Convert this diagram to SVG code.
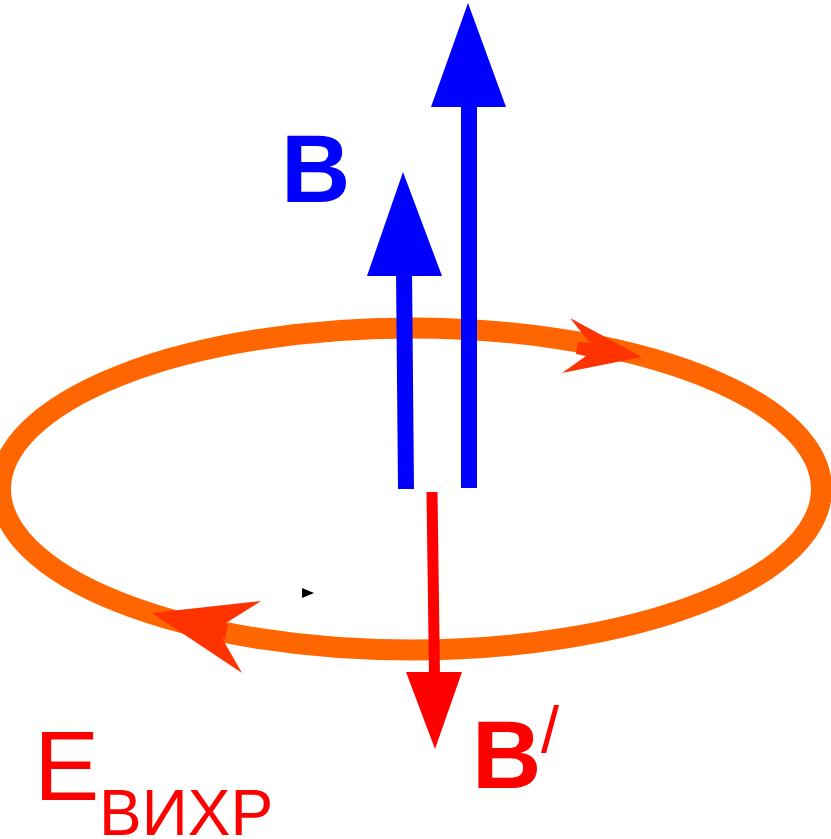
<svg xmlns="http://www.w3.org/2000/svg" width="831" height="839" viewBox="0 0 831 839">
<style>
.blue{fill:#0000FF}
.bshaft{stroke:#0000FF;stroke-width:16;fill:none}
.red{fill:#FF0000}
.rshaft{stroke:#FF0000;stroke-width:11;fill:none}
.loop{stroke:#FF6600;stroke-width:21;fill:none}
.loophead{fill:#FF3300}
.lbl{font-family:"Liberation Sans",Arial,sans-serif}
.bold{font-weight:bold}
</style>
<rect width="831" height="839" fill="#FFFFFF"/>
<g id="loop">
<ellipse class="loop" cx="411" cy="489" rx="410.5" ry="161"/>
<polygon class="loophead" points="570,318 642,357 562,373 586,356 576,354 578,342 590,343"/>
<polygon class="loophead" points="152,613 261,601 226,623 228,625 225,639 222,638 242,673"/>
<polygon fill="#000000" points="302,588 314,593 302,598"/>
</g>
<g id="connectors">
<g id="B-field-short">
<line class="bshaft" x1="404" y1="270" x2="406" y2="489"/>
<polygon class="blue" points="403,172 442,276 367,276"/>
</g>
<g id="B-field-tall">
<line class="bshaft" x1="469" y1="100" x2="469" y2="488"/>
<polygon class="blue" points="468,3 506,107 431,107"/>
</g>
<g id="B-induced">
<line class="rshaft" x1="432" y1="492" x2="434.5" y2="676"/>
<polygon class="red" points="406,672 462,672 435,749"/>
</g>
</g>
<g id="label-B">
<text class="lbl bold blue" x="281" y="202" font-size="96">B</text>
</g>
<g id="label-B-prime">
<text class="lbl bold red" x="472" y="788" font-size="96">B</text>
<text class="lbl red" x="541" y="752" font-size="65">/</text>
</g>
<g id="label-E">
<text class="lbl red" x="34" y="800" font-size="98">E</text>
<text class="lbl red" x="99" y="835" font-size="64">ВИХР</text>
</g>
</svg>
